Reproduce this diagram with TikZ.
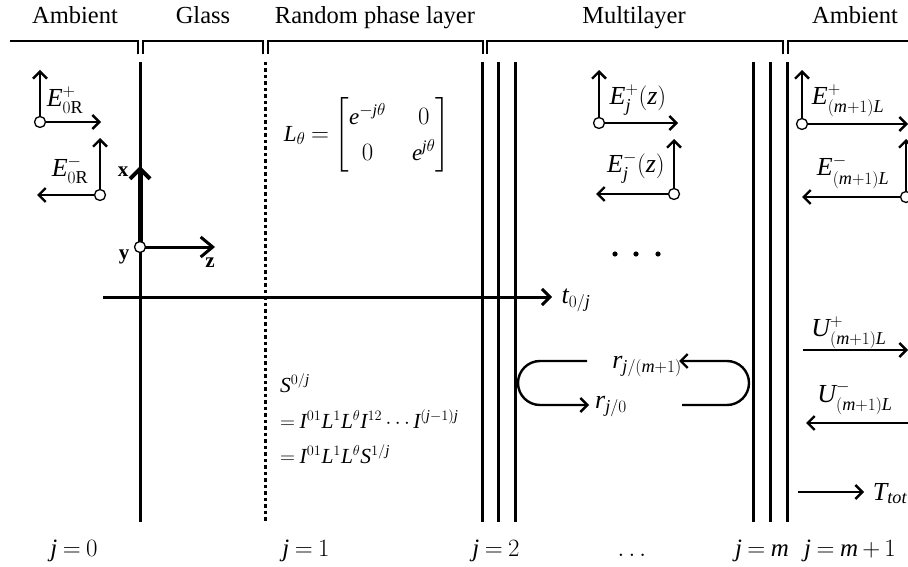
\documentclass[tikz,border=0pt]{standalone}
\usepackage{amsmath}
\usepackage{fontspec}
\setmainfont{Liberation Serif}
\DeclareSymbolFont{tletters}{TU}{\rmdefault}{m}{it}
\DeclareSymbolFont{tdigits}{TU}{\rmdefault}{m}{n}
\makeatletter
\@for\tl@ch:={E,j,z,m,L,U,T,t,o,r,S,I,e}\do{%
  \expandafter\DeclareMathSymbol\expandafter{\tl@ch}{\mathalpha}{tletters}{\expandafter`\tl@ch}}
\@for\tl@ch:={0,1,2}\do{%
  \expandafter\DeclareMathSymbol\expandafter{\tl@ch}{\mathalpha}{tdigits}{\expandafter`\tl@ch}}
\makeatother
\usetikzlibrary{arrows.meta}
\tikzset{
  vec/.style={line width=2.4pt,-{Straight Barb[length=7pt,width=14pt,line width=2.4pt]}},
  wall/.style={line width=3pt},
  brace/.style={line width=1.5pt},
  odot/.style={circle,draw,line width=1.3pt,fill=white,minimum size=11pt,inner sep=0pt,
    path picture={\fill (path picture bounding box.center) circle (1.4pt);}},
  ttl/.style={font=\fontsize{24.5}{28}\selectfont,inner sep=0pt},
  big/.style={font=\fontsize{26}{30}\selectfont,inner sep=0pt},
  mid/.style={font=\fontsize{21.5}{25}\selectfont,inner sep=0pt},
  low/.style={font=\fontsize{25}{29}\selectfont,inner sep=0pt,anchor=base},
  axl/.style={font=\fontsize{21}{25}\selectfont\bfseries,inner sep=0pt},
}
\begin{document}
\begin{tikzpicture}[x=1pt,y=-1pt]
\thickmuskip=4mu plus 2mu\relax
\medmuskip=3mu plus 2mu\relax
\useasboundingbox (0,0) rectangle (908,567);
% titles
\node[ttl,anchor=base] (tA) at (75,24) {Ambient};
\node[ttl,anchor=base] (tG) at (203,24) {Glass};
\node[ttl,anchor=base] (tR) at (375,24) {Random phase layer};
\node[ttl,anchor=base] (tM) at (634,24) {Multilayer};
\node[ttl,anchor=base] (tB) at (855,24) {Ambient};
% braces
\draw[brace] (10,41) -- (138,41) -- (138,54);
\draw[brace] (143,54) -- (143,41) -- (263,41) -- (263,54);
\draw[brace] (268,54) -- (268,41) -- (483,41) -- (483,54);
\draw[brace] (487,54) -- (487,41) -- (783,41) -- (783,54);
\draw[brace] (788,54) -- (788,41) -- (908,41);
% walls
\draw[wall] (140,62) -- (140,522);
\draw[line width=3pt,dash pattern=on 3.5pt off 3pt] (265,62) -- (265,522);
\foreach \xx in {482,498,515,753,770,787}{\draw[wall] (\xx,62) -- (\xx,522);}
% t axis
\coordinate (tS) at (103,297);
\coordinate (tE) at (552,297);
\draw[line width=3pt,-{Straight Barb[length=8pt,width=16pt,line width=3pt]}] (tS) -- (tE);
\node[big,anchor=base] (tl) at (576,303) {$t_{0/j}$};
% coordinate axes
\coordinate (O) at (140,247);
\coordinate (Xt) at (140,166);
\coordinate (Zt) at (215,247);
\draw[line width=5pt,-{Straight Barb[length=10pt,width=20pt,line width=4pt]}] (O) -- (Xt);
\draw[line width=3pt,-{Straight Barb[length=12pt,width=20pt,line width=3pt]}] (O) -- (Zt);
\node[odot] (Oc) at (O) {};
\node[axl] (xl) at (123,172) {x};
\node[axl] (yl) at (124,257) {y};
\node[axl] (zl) at (210,263) {z};
% left E vectors
\coordinate (a1) at (40,122); \coordinate (a1u) at (40,70); \coordinate (a1r) at (101,122);
\draw[vec] (a1) -- (a1u); \draw[vec] (a1) -- (a1r);
\node[odot] (a1c) at (a1) {};
\node[big] (ea1) at (65,100) {$E^{+}_{0\mathrm{R}}$};
\coordinate (a2) at (100,195); \coordinate (a2u) at (100,138); \coordinate (a2l) at (37,195);
\draw[vec] (a2) -- (a2u); \draw[vec] (a2) -- (a2l);
\node[odot] (a2c) at (a2) {};
\node[big] (ea2) at (70,170) {$E^{-}_{0\mathrm{R}}$};
% matrix
\node[font=\fontsize{23}{27}\selectfont,inner sep=0pt] (Lm) at (367,135) {\setlength{\arraycolsep}{13pt}\renewcommand{\arraystretch}{1.35}$L_{\theta}=\begin{bmatrix} e^{-j\theta} & 0\\ 0 & e^{j\theta}\end{bmatrix}$};
% multilayer E vectors
\coordinate (b1) at (599,123); \coordinate (b1u) at (599,70); \coordinate (b1r) at (678,123);
\draw[vec] (b1) -- (b1u); \draw[vec] (b1) -- (b1r);
\node[odot] (b1c) at (b1) {};
\node[big] (eb1) at (638,100) {$E^{+}_{j}(z)$};
\coordinate (b2) at (674,194); \coordinate (b2u) at (674,139); \coordinate (b2l) at (596,194);
\draw[vec] (b2) -- (b2u); \draw[vec] (b2) -- (b2l);
\node[odot] (b2c) at (b2) {};
\node[big] (eb2) at (636,168) {$E^{-}_{j}(z)$};
\foreach \xx in {615,636,658}{\fill (\xx,254) circle (2.6pt);}
% right E vectors
\coordinate (c1) at (802,124); \coordinate (c1u) at (802,70); \coordinate (c1r) at (908,124);
\draw[vec] (c1) -- (c1u); \draw[vec] (c1) -- (c1r);
\node[odot] (c1c) at (c1) {};
\node[big] (ec1) at (848,101) {$E^{+}_{(m+1)L}$};
\coordinate (c2) at (906,197); \coordinate (c2u) at (906,139); \coordinate (c2l) at (802,197);
\draw[vec] (c2) -- (c2u); \draw[vec] (c2) -- (c2l);
\node[odot] (c2c) at (c2) {};
\node[big] (ec2) at (853,172) {$E^{-}_{(m+1)L}$};
% U and T
\coordinate (u1s) at (803,350); \coordinate (u1e) at (908,350);
\draw[vec] (u1s) -- (u1e);
\node[big,anchor=base] (eu1) at (849,336) {$U^{+}_{(m+1)L}$};
\coordinate (u2s) at (908,423); \coordinate (u2e) at (806,423);
\draw[vec] (u2s) -- (u2e);
\node[big,anchor=base] (eu2) at (855,402) {$U^{-}_{(m+1)L}$};
\coordinate (ts) at (798,492); \coordinate (te) at (864,492);
\draw[vec] (ts) -- (te);
\node[big,anchor=base] (tt) at (890,500) {$T_{tot}$};
% r loops
\coordinate (r1s) at (587,361); \coordinate (r1a) at (540,361); \coordinate (r1e) at (589,405);
\draw[vec] (r1s) -- (r1a) arc[start angle=270,end angle=90,radius=22] -- (r1e);
\node[big,anchor=base] (rl1) at (611,408) {$r_{j/0}$};
\coordinate (r2s) at (682,405); \coordinate (r2a) at (727,405); \coordinate (r2e) at (679,361);
\draw[vec] (r2s) -- (r2a) arc[start angle=90,end angle=-90,radius=22] -- (r2e);
\node[big,anchor=base] (rl2) at (647,368) {$r_{j/(m+1)}$};
% S formula
\node[mid,anchor=base west] (S1) at (280,392) {$S^{0/j}$};
\node[mid,anchor=base west] (S2) at (280,428) {$=I^{01}L^{1}L^{\theta}I^{12}\cdots I^{(j-1)j}$};
\node[mid,anchor=base west] (S3) at (280,463) {$=I^{01}L^{1}L^{\theta}S^{1/j}$};
% bottom labels
\node[low] (j0) at (74,556) {$j=0$};
\node[low] (j1) at (306,556) {$j=1$};
\node[low] (j2) at (496,556) {$j=2$};
\node[low] (jd) at (632,556) {$\ldots$};
\node[low] (jm) at (762,556) {$j=m$};
\node[low] (jm1) at (850,556) {$j=m+1$};
\end{tikzpicture}
\end{document}
